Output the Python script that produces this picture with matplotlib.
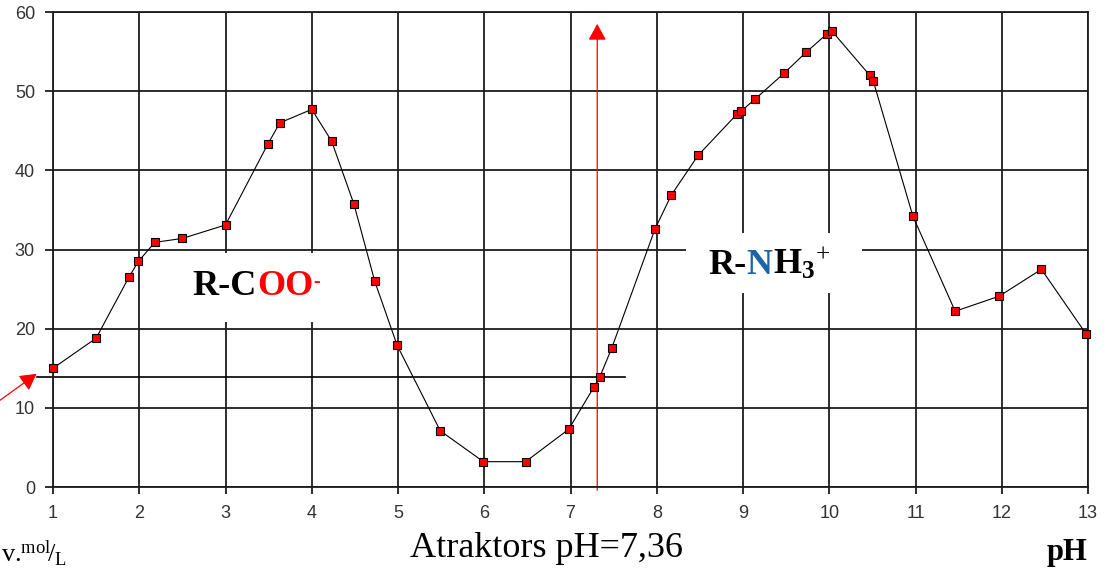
import matplotlib
matplotlib.use("Agg")
import matplotlib.pyplot as plt
from matplotlib.patches import Rectangle

matplotlib.rcParams.update({
    "font.family": "Liberation Sans",
    "mathtext.fontset": "custom",
    "mathtext.rm": "Liberation Serif",
    "mathtext.it": "Liberation Serif:italic",
    "mathtext.bf": "Liberation Serif:bold",
})

# measured points (pH, value)
ph = [1.0, 1.5, 1.88, 1.99, 2.18, 2.5, 3.0, 3.49, 3.63, 4.0, 4.23, 4.49, 4.73,
      4.99, 5.49, 5.99, 6.48, 6.98, 7.27, 7.34, 7.48, 7.98, 8.17, 8.48, 8.93,
      8.98, 9.14, 9.48, 9.73, 9.97, 10.03, 10.47, 10.51, 10.97, 11.46, 11.97,
      12.46, 12.98]
val = [15.0, 18.8, 26.5, 28.5, 30.9, 31.4, 33.1, 43.3, 46.0, 47.7, 43.7, 35.7,
       26.0, 17.9, 7.1, 3.2, 3.2, 7.3, 12.6, 13.9, 17.6, 32.6, 36.9, 41.9, 47.1,
       47.5, 49.0, 52.3, 54.9, 57.2, 57.6, 52.0, 51.3, 34.2, 22.2, 24.1, 27.5,
       19.3]

x_ticks = list(range(1, 14))
y_ticks = [0, 10, 20, 30, 40, 50, 60]

attractor_ph = 7.31
attractor_level = 13.9

grid_c = "#1c1c1c"

fig = plt.figure(figsize=(11.1, 5.69), dpi=100)
ax = fig.add_axes([0.04775, 0.1441, 0.93243, 0.8348])
ax.set_xlim(1, 13)
ax.set_ylim(0, 60)
ax.set_xticks(x_ticks)
ax.set_yticks(y_ticks)
ax.set_axisbelow(True)
ax.grid(True, color=grid_c, lw=1.3)
for s in ax.spines.values():
    s.set_color(grid_c)
    s.set_linewidth(1.3)
ax.tick_params(axis="both", colors=grid_c, labelcolor="#333333", labelsize=13, width=1.3)
ax.tick_params(axis="x", length=5, pad=8)
ax.tick_params(axis="y", length=6, pad=7)

# white boxes behind the labels
ax.add_patch(Rectangle((2.36, 20.8), 1.97, 8.8, facecolor="white", edgecolor="none", zorder=1))
ax.add_patch(Rectangle((8.34, 24.5), 2.04, 7.6, facecolor="white", edgecolor="none", zorder=1))

ax.plot(ph, val, color="black", lw=0.8, marker="s", ms=6, mfc="#ff0000",
        mec="black", mew=0.8, zorder=3, clip_on=False)

# attractor lines
ax.plot([0.81, 7.63], [attractor_level, attractor_level], color="black", lw=1.2,
        clip_on=False, zorder=2)
ax.annotate("", xy=(attractor_ph, 58.5), xytext=(attractor_ph, -0.4),
            arrowprops=dict(arrowstyle="-|>,head_length=1.0,head_width=0.55",
                            color="red", lw=0.9, shrinkA=0, shrinkB=0),
            annotation_clip=False, zorder=2)
ax.annotate("", xy=(0.81, 14.3), xytext=(0.15, 9.1),
            arrowprops=dict(arrowstyle="-|>,head_length=1.0,head_width=0.55",
                            color="red", lw=0.9, shrinkA=0, shrinkB=0),
            annotation_clip=False, zorder=2)

# R-COO- label
serif = "Liberation Serif"
t1 = ax.text(2.62, 25.3, "R-C", fontsize=26, fontweight="bold", family=serif,
             va="center", ha="left", zorder=4)
t2 = ax.annotate("OO", xy=(1, 0), xycoords=t1, va="bottom", ha="left",
                 fontsize=26, fontweight="bold", family=serif, color="red", zorder=4)
ax.annotate("-", xy=(1, 1), xycoords=t2, xytext=(0, -3), textcoords="offset points",
            va="top", ha="left", fontsize=14, fontweight="bold", family=serif,
            color="red", zorder=4)

# R-NH3+ label
t3 = ax.text(8.6, 28.0, "R-", fontsize=26, fontweight="bold", family=serif,
             va="center", ha="left", zorder=4)
t4 = ax.annotate("N", xy=(1, 0), xycoords=t3, va="bottom", ha="left",
                 fontsize=26, fontweight="bold", family=serif, color="#1a64a8", zorder=4)
ax.annotate(r"H$_{\mathbf{3}}$$^{+}$", xy=(1, 0), xycoords=t4, va="bottom", ha="left",
            fontsize=26, fontweight="bold", family=serif, zorder=4)

# bottom texts
fig.text(0.001, 0.0123, r"v.$^{\mathrm{mol}}\!/_{\mathrm{L}}$", fontsize=19,
         family=serif, ha="left", va="baseline")
fig.text(0.4923, 0.021, "Atraktors pH=7,36", fontsize=26, family=serif,
         ha="center", va="baseline")
fig.text(0.980, 0.0158, "pH", fontsize=22, family=serif, fontweight="bold",
         ha="right", va="baseline")

fig.savefig("out.png", dpi=100)
plt.close(fig)
